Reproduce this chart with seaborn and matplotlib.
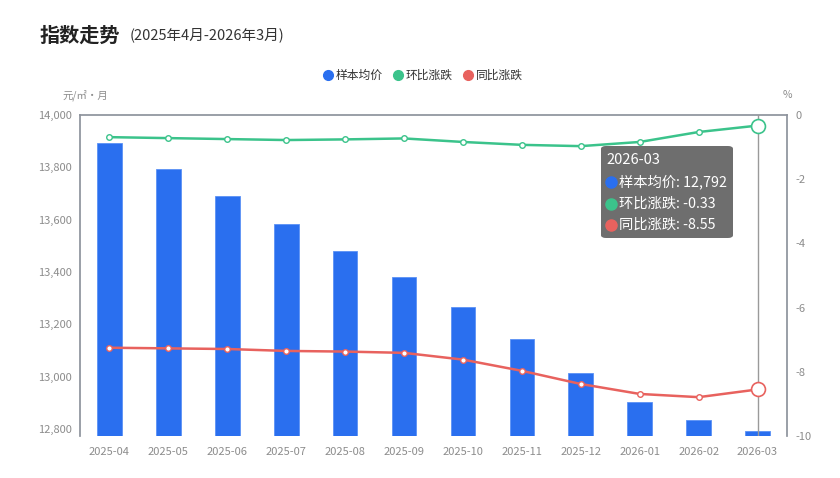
import numpy as np
import pandas as pd
import matplotlib
matplotlib.use("Agg")
import matplotlib.pyplot as plt
from matplotlib.patches import FancyBboxPatch
from matplotlib.lines import Line2D
import seaborn as sns

# data
months = ["2025-04", "2025-05", "2025-06", "2025-07", "2025-08", "2025-09",
          "2025-10", "2025-11", "2025-12", "2026-01", "2026-02", "2026-03"]
avg_price = [13893, 13793, 13690, 13583, 13480, 13380,
             13266, 13143, 13013, 12902, 12833, 12792]
mom = [-0.69, -0.72, -0.75, -0.78, -0.76, -0.73,
       -0.84, -0.93, -0.97, -0.84, -0.53, -0.33]
yoy = [-7.25, -7.27, -7.29, -7.35, -7.37, -7.41,
       -7.62, -7.97, -8.38, -8.69, -8.79, -8.55]

left_ticks = [12800, 13000, 13200, 13400, 13600, 13800, 14000]
right_ticks = [-10, -8, -6, -4, -2, 0]

BLUE = "#2A6FEF"
GREEN = "#3BC38B"
RED = "#E8625E"
AXIS = "#8E939C"
LABEL = "#8C8C8C"

sns.set_theme(style="white")
plt.rcParams["font.family"] = ["Noto Sans CJK SC", "DejaVu Sans"]

df = pd.DataFrame({"month": months, "price": avg_price})

W, H = 840, 478
fig = plt.figure(figsize=(W / 100, H / 100), dpi=100)
ax = fig.add_axes([80 / W, 1 - 436 / H, (787 - 80) / W, (436 - 115) / H])

sns.barplot(data=df, x="month", y="price", color=BLUE, width=0.42,
            saturation=1, ax=ax, edgecolor="#5B92F5", linewidth=0.6)
ax.set_ylim(12773, 14000)
ax.set_yticks(left_ticks)
ax.set_yticklabels([f"{v:,}" for v in left_ticks])
ax.set_xlim(-0.5, len(months) - 0.5)
ax.set_xlabel("")
ax.set_ylabel("")

ax2 = ax.twinx()
xs = np.arange(len(months))
ax2.plot(xs, mom, color=GREEN, lw=1.8, marker="o", ms=4,
         mfc="white", mec=GREEN, mew=1, zorder=3)
ax2.plot(xs, yoy, color=RED, lw=1.8, marker="o", ms=4,
         mfc="white", mec=RED, mew=1, zorder=3)
# highlighted last point
ax2.plot(xs[-1], mom[-1], "o", ms=10, mfc="white", mec=GREEN, mew=1.2, zorder=4)
ax2.plot(xs[-1], yoy[-1], "o", ms=10, mfc="white", mec=RED, mew=1.2, zorder=4)
ax2.set_ylim(-10, 0)
ax2.set_yticks(right_ticks)
ax2.set_yticklabels([str(v) for v in right_ticks])

# axis pointer
ax.axvline(xs[-1], color="#9A9A9A", lw=1, zorder=5)

for a in (ax, ax2):
    for s in ["left", "right", "top", "bottom"]:
        a.spines[s].set_visible(False)
    a.tick_params(axis="both", length=0, colors=LABEL, labelsize=8, pad=6)
ax.spines["left"].set_visible(True)
ax.spines["left"].set_color(AXIS)
ax.spines["top"].set_visible(True)
ax.spines["top"].set_color(AXIS)
ax2.spines["right"].set_visible(True)
ax2.spines["right"].set_color(AXIS)
ax.tick_params(axis="x", pad=8)
ax2.tick_params(axis="y", pad=6)


def dot(px, py, col, size, z=11):
    fig.add_artist(Line2D([px / W], [1 - py / H], marker="o", ms=size,
                          color=col, mec=col, linestyle="none",
                          transform=fig.transFigure, zorder=z))


# titles
fig.text(40 / W, 1 - 35 / H, "指数走势", fontsize=14.5, fontweight="bold",
         color="#222222", va="center")
fig.text(130 / W, 1 - 35 / H, "(2025年4月-2026年3月)", fontsize=10.5,
         color="#333333", va="center")

# axis units
fig.text(62 / W, 1 - 95 / H, "元/㎡·月", fontsize=7.5, color=LABEL, va="center")
fig.text(787 / W, 1 - 95 / H, "%", fontsize=7.5, color=LABEL, va="center",
         ha="center")

# legend
legend_items = [("样本均价", BLUE, 328), ("环比涨跌", GREEN, 398), ("同比涨跌", RED, 468)]
for name, col, px in legend_items:
    dot(px, 75, col, 7)
    fig.text((px + 8) / W, 1 - 75 / H, name, fontsize=8.5, color="#333333",
             va="center")

# tooltip
x0, y0, x1, y1 = 601, 146, 733, 238
box = FancyBboxPatch((x0 / W, 1 - y1 / H), (x1 - x0) / W, (y1 - y0) / H,
                     boxstyle="round,pad=0,rounding_size=0.006",
                     transform=fig.transFigure, facecolor="#666666",
                     edgecolor="none", alpha=0.95, zorder=10)
fig.patches.append(box)
fig.text(606 / W, 1 - 160 / H, months[-1], fontsize=10.5, color="white",
         va="center", zorder=11)
rows = [("样本均价", f"{avg_price[-1]:,}", BLUE),
        ("环比涨跌", f"{mom[-1]:.2f}", GREEN),
        ("同比涨跌", f"{yoy[-1]:.2f}", RED)]
for i, (name, val, col) in enumerate(rows):
    yy = 182 + i * 21.5
    dot(611, yy, col, 8)
    fig.text(619 / W, 1 - yy / H, f"{name}: {val}", fontsize=10.3,
             color="white", va="center", zorder=11)

fig.savefig("out.png", dpi=100)
